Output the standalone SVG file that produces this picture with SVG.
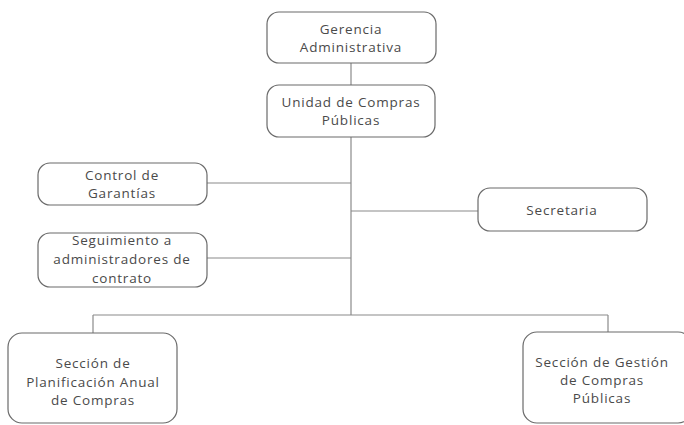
<svg xmlns="http://www.w3.org/2000/svg" width="684" height="425" viewBox="0 0 684 425">
<style>
.box{fill:#fff;stroke:#6a6a6a;stroke-width:1.2}
.t{font-family:"Open Sans","Liberation Sans",sans-serif;font-size:13.5px;fill:#4a4a4a;text-anchor:middle;letter-spacing:0.8px}
.c{stroke:#8a8a8a;stroke-width:1.2;fill:none}
</style>
<rect width="684" height="425" fill="#fff"/>
<g id="connectors">
<line class="c" x1="351" y1="63" x2="351" y2="85"/>
<line class="c" x1="351" y1="137" x2="351" y2="315"/>
<line class="c" x1="207" y1="183" x2="351" y2="183"/>
<line class="c" x1="207" y1="258" x2="351" y2="258"/>
<line class="c" x1="351" y1="211" x2="478" y2="211"/>
<line class="c" x1="93" y1="315" x2="608" y2="315"/>
<line class="c" x1="93" y1="315" x2="93" y2="333"/>
<line class="c" x1="608" y1="315" x2="608" y2="332"/>
</g>
<g id="gerencia">
<rect class="box" x="267" y="12" width="169" height="51" rx="12"/>
<text class="t" x="351" y="34">Gerencia</text>
<text class="t" x="351" y="52">Administrativa</text>
</g>
<g id="unidad">
<rect class="box" x="267" y="85" width="168" height="52" rx="12"/>
<text class="t" x="351" y="107">Unidad de Compras</text>
<text class="t" x="351" y="125">Públicas</text>
</g>
<g id="control">
<rect class="box" x="38" y="163" width="169" height="42" rx="12"/>
<text class="t" x="122" y="180">Control de</text>
<text class="t" x="122" y="198">Garantías</text>
</g>
<g id="seguimiento">
<rect class="box" x="38" y="233" width="169" height="54" rx="12"/>
<text class="t" x="122" y="245">Seguimiento a</text>
<text class="t" x="122" y="264">administradores de</text>
<text class="t" x="122" y="283">contrato</text>
</g>
<g id="secretaria">
<rect class="box" x="478" y="188" width="169" height="43" rx="12"/>
<text class="t" x="562" y="215">Secretaria</text>
</g>
<g id="planificacion">
<rect class="box" x="8" y="333" width="169" height="90" rx="14"/>
<text class="t" x="93" y="368">Sección de</text>
<text class="t" x="93" y="387">Planificación Anual</text>
<text class="t" x="93" y="405">de Compras</text>
</g>
<g id="gestion">
<rect class="box" x="523" y="332" width="169" height="91" rx="14"/>
<text class="t" x="602" y="367">Sección de Gestión</text>
<text class="t" x="602" y="385">de Compras</text>
<text class="t" x="602" y="403">Públicas</text>
</g>
</svg>
